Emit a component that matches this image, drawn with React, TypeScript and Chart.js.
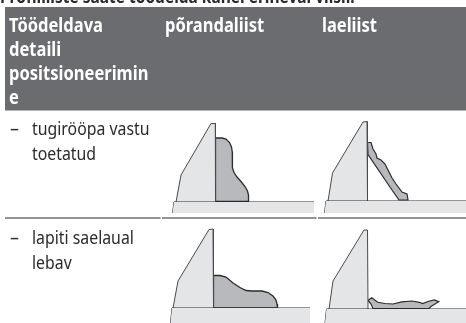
import React, { useEffect, useRef } from "react";
import { Chart, registerables } from "chart.js";

Chart.register(...registerables);

type P = { x: number; y: number };
const pts = (a: number[][]): P[] => a.map(([x, y]) => ({ x, y }));

const headerBand = [[5, 7], [466, 7], [466, 110.5], [5, 110.5]];
const rowRuleA = [[5, 218], [160.5, 218]];
const rowRuleB = [[162, 218], [316.5, 218]];
const rowRuleC = [[318, 218], [466, 218]];

const fenceA = [[176, 202], [181, 175], [211, 123.5], [215.3, 123.5], [215.5, 202]];
const baseFillA = [[172.5, 213], [174, 202], [314, 202], [314, 213]];
const baseEdgeA = [[172.5, 213], [174, 202], [314, 202]];
const profileA = [[215.5, 138], [222, 138], [226, 139], [229.5, 142.5], [231.5, 147], [232.3, 152], [232.3, 160], [232.5, 168], [234, 172.5], [237, 177], [241, 181.5], [245, 186.5], [247.5, 191], [248.5, 195], [248.5, 201.5], [215.5, 201.5]];
const notchA = [[215.5, 157], [219.8, 157], [219.8, 164], [215.5, 164]];

const fenceB = [[328, 201], [332.5, 173], [363, 122], [367, 121.5], [367.5, 201]];
const baseFillB = [[324.5, 213], [326, 201], [466, 201], [466, 213]];
const baseEdgeB = [[324.5, 213], [326, 201], [466, 201]];
const profileB = [[367.5, 142.5], [371, 142.5], [373, 149], [376, 154], [377, 158], [381, 160], [385, 164], [388, 170], [392, 178], [396, 184], [402, 192], [407, 194], [408, 200], [399, 200], [392, 190], [368, 154.5]];

const fenceC = [[173, 308], [178, 281], [209, 229.5], [213, 229], [213.5, 308]];
const baseFillC = [[170.5, 323], [172, 308], [310, 308], [310, 323]];
const baseEdgeC = [[170.5, 323], [172, 308], [310, 308]];
const profileC = [[213.5, 275.5], [220, 275.5], [226, 277], [233, 283], [240, 287.5], [246, 290.5], [252, 291], [262, 291], [268, 292.5], [273, 296], [276, 300], [277, 304], [277.5, 308], [213.5, 308]];
const notchC = [[251, 308], [251, 304], [258, 304], [258, 308]];

const fenceD = [[329, 309], [333, 281], [364, 230], [367.5, 230], [368, 309]];
const baseFillD = [[325, 323], [326.5, 309], [466, 309], [466, 323]];
const baseEdgeD = [[325, 323], [326.5, 309], [466, 309]];
const profileD = [[368, 300.5], [371.7, 297.7], [377.7, 302.3], [385, 303.5], [393, 304], [402, 301.8], [412, 301], [419.3, 302.3], [422.7, 303.5], [428, 301.5], [434.3, 300], [438.7, 301.7], [431, 306.5], [429, 308.5], [373, 308.5], [371, 304]];

const introLine = "Profiilliste saate töödelda kahel erineval viisil.";
const headerLines = ["Töödeldava", "detaili", "positsioneerimin", "e"];
const colTwoHeader = "põrandaliist";
const colThreeHeader = "laeliist";
const rowOneLines = ["tugirööpa vastu", "toetatud"];
const rowTwoLines = ["lapiti saelaual", "lebav"];
const dash = "–";

const DARK = "#2b2a2c";
const FENCE = "#e4e5e7";
const PROFILE = "#b8b9bc";

const shape = (data: number[][], fill: string, line: string, width: number) => ({
  data: pts(data),
  showLine: true,
  fill: fill === "transparent" ? false : "shape",
  backgroundColor: fill,
  borderColor: line,
  borderWidth: width,
  pointRadius: 0,
  tension: 0,
});
const closed = (a: number[][]) => [...a, a[0]];

const FONT = '"Noto Sans", sans-serif';

const textPlugin = {
  id: "tableText",
  afterDatasetsDraw(chart: any) {
    const { ctx, scales } = chart;
    const X = (v: number) => scales.x.getPixelForValue(v);
    const Y = (v: number) => scales.y.getPixelForValue(v);
    const put = (s: string, x: number, y: number, font: string, color: string, sx: number) => {
      ctx.save();
      ctx.font = font;
      ctx.fillStyle = color;
      ctx.textBaseline = "alphabetic";
      ctx.textAlign = "left";
      ctx.translate(X(x), Y(y));
      ctx.scale(sx, 1);
      ctx.fillText(s, 0, 0);
      ctx.restore();
    };
    const bold = `bold 19px ${FONT}`;
    const reg = `18px ${FONT}`;
    const bSx = 0.87;
    const rSx = 0.88;
    put(introLine, 0, 3, `bold 18px ${FONT}`, DARK, 0.86);
    headerLines.forEach((s, i) => put(s, 9, [32, 56, 80, 103.5][i], bold, "#ffffff", bSx));
    put(colTwoHeader, 165, 32, bold, "#ffffff", bSx);
    put(colThreeHeader, 322, 32, bold, "#ffffff", bSx);
    put(dash, 10, 135, reg, DARK, 1);
    rowOneLines.forEach((s, i) => put(s, 32, 135 + i * 24.5, reg, DARK, rSx));
    put(dash, 10, 244, reg, DARK, 1);
    rowTwoLines.forEach((s, i) => put(s, 32, 244 + i * 24.5, reg, DARK, rSx));
  },
};

export default function App() {
  const ref = useRef<HTMLCanvasElement>(null);
  useEffect(() => {
    document.body.style.margin = "0";
    const chart = new Chart(ref.current!, {
      type: "scatter",
      data: {
        datasets: [
          shape(closed(headerBand), "#6b6c70", "#6b6c70", 0),
          shape(rowRuleA, "transparent", DARK, 1.2),
          shape(rowRuleB, "transparent", DARK, 1.2),
          shape(rowRuleC, "transparent", DARK, 1.2),
          shape(baseFillA, FENCE, FENCE, 0),
          shape(baseEdgeA, "transparent", DARK, 1),
          shape(fenceA, FENCE, "#4a4a4c", 1),
          shape(closed(profileA), PROFILE, DARK, 1.3),
          shape(closed(notchA), "#ffffff", DARK, 1),
          shape(baseFillB, FENCE, FENCE, 0),
          shape(baseEdgeB, "transparent", DARK, 1),
          shape(fenceB, FENCE, "#4a4a4c", 1),
          shape(closed(profileB), PROFILE, DARK, 1.2),
          shape(baseFillC, FENCE, FENCE, 0),
          shape(baseEdgeC, "transparent", DARK, 1),
          shape(fenceC, FENCE, "#4a4a4c", 1),
          shape(closed(profileC), PROFILE, DARK, 1.3),
          shape(closed(notchC), "#ffffff", DARK, 1),
          shape(baseFillD, FENCE, FENCE, 0),
          shape(baseEdgeD, "transparent", DARK, 1),
          shape(fenceD, FENCE, "#4a4a4c", 1),
          shape(closed(profileD), PROFILE, DARK, 1.2),
        ] as any,
      },
      options: {
        animation: false,
        responsive: false,
        layout: { padding: 0 },
        scales: {
          x: { type: "linear", display: false, min: 0, max: 466 },
          y: { type: "linear", display: false, min: 0, max: 323, reverse: true },
        },
        plugins: { legend: { display: false }, tooltip: { enabled: false }, title: { display: false } },
      },
      plugins: [textPlugin],
    });
    return () => chart.destroy();
  }, []);
  return <canvas ref={ref} width={466} height={323} style={{ display: "block" }} />;
}
